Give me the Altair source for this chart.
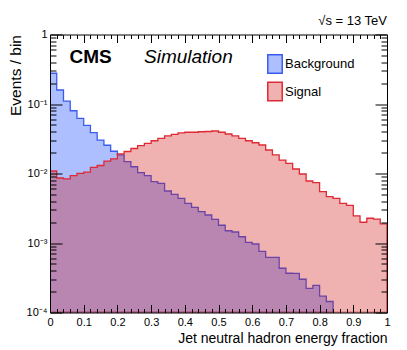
import altair as alt
import pandas as pd

# ---------------- data ----------------
BIN_STARTS = [round(0.02 * i, 2) for i in range(50)]
Y_MIN, Y_MAX = 1e-4, 1.0

# Background: bins 0..41 filled, bins 42..49 empty (below axis floor)
BACKGROUND = [0.277, 0.159, 0.110, 0.080, 0.0622, 0.0494, 0.0387, 0.0303, 0.0255, 0.0209,
              0.0185, 0.0148, 0.0125, 0.01027, 0.0093, 0.00762, 0.00723, 0.0056, 0.00502, 0.0044,
              0.00372, 0.00326, 0.00282, 0.00253, 0.00219, 0.0018, 0.0015, 0.00144, 0.00123, 0.00102,
              0.000968, 0.00076, 0.000623, 0.000623, 0.000433, 0.000367, 0.000365, 0.000301, 0.000223, 0.000245,
              0.000172, 0.000144]
SIGNAL = [0.01086, 0.00861, 0.00839, 0.0093, 0.01007, 0.01044, 0.01228, 0.01303, 0.01503, 0.01628,
          0.0191, 0.02074, 0.0229, 0.0251, 0.0272, 0.0296, 0.0321, 0.0347, 0.0366, 0.0385,
          0.0392, 0.0392, 0.0399, 0.0402, 0.0409, 0.0392, 0.0370, 0.0347, 0.0321, 0.0296,
          0.0277, 0.0257, 0.0218, 0.0185, 0.0156, 0.0140, 0.01161, 0.00984, 0.0078, 0.00738,
          0.00547, 0.00464, 0.0044, 0.00372, 0.00348, 0.00246, 0.00199, 0.00227, 0.00221, 0.00188]

SERIES = ["Background", "Signal"]
FILLS = ["rgba(8,60,255,0.33)", "rgba(210,18,18,0.33)"]
LINES = ["#3a5cf0", "#dd2a35"]

X_MAJOR = [round(0.1 * i, 1) for i in range(11)]
X_MINOR = [v for v in BIN_STARTS if round(v * 10, 6) != round(v * 10)]
Y_MAJOR = [1e-4, 1e-3, 1e-2, 1e-1, 1.0]
Y_MINOR = [round(k * 10.0 ** d, 8) for d in range(-4, 0) for k in range(2, 10)]

rows = []
for i, v in enumerate(BACKGROUND):
    rows.append({"series": "Background", "x": BIN_STARTS[i], "y": v})
rows.append({"series": "Background", "x": BIN_STARTS[len(BACKGROUND)], "y": Y_MIN})
for i, v in enumerate(SIGNAL):
    rows.append({"series": "Signal", "x": BIN_STARTS[i], "y": v})
rows.append({"series": "Signal", "x": 1.0, "y": SIGNAL[-1]})
df = pd.DataFrame(rows)

W, H = 337, 278
FONT = "Liberation Sans"

xscale = alt.Scale(domain=[0, 1], nice=False, zero=False)
yscale = alt.Scale(type="log", domain=[Y_MIN, Y_MAX], nice=False)

Y_LABEL_EXPR = ("datum.value >= 1 ? '1' : '10' + ['', '\u207b\u00b9', '\u207b\u00b2', '\u207b\u00b3', '\u207b\u2074']"
                "[round(-log(datum.value)/LN10)]")


def tick_axis(orient, offset, values, size, domain):
    return alt.Axis(orient=orient, offset=offset, values=values, labels=False, title=None,
                    ticks=True, tickSize=size, tickColor="black", tickWidth=1,
                    domain=domain, domainColor="black", domainWidth=1, grid=False, zindex=2)


def legend():
    return alt.Legend(orient="none", legendX=215, legendY=19.5, title=None,
                      symbolType="M-0.78,-1H0.78V1H-0.78Z", symbolSize=342,
                      symbolStrokeWidth=1.5, labelFont=FONT, labelFontSize=13,
                      labelColor="black", labelOffset=0, rowPadding=1.5, padding=0)


main = alt.Chart(df).mark_area(interpolate="step-after", strokeWidth=1.3, clip=True).encode(
    x=alt.X("x:Q", scale=xscale,
            axis=alt.Axis(values=X_MAJOR, format="~g", ticks=False, domain=False, grid=False,
                          labelFont=FONT, labelFontSize=11, labelColor="black", labelPadding=4,
                          labelFlush=False,
                          title="Jet neutral hadron energy fraction", titleFont=FONT,
                          titleFontSize=14, titleFontWeight="normal", titleColor="black",
                          titleAnchor="end", titlePadding=4)),
    y=alt.Y("y:Q", scale=yscale, stack=None,
            axis=alt.Axis(values=Y_MAJOR, labelExpr=Y_LABEL_EXPR, ticks=False, domain=False, grid=False,
                          labelFont=FONT, labelFontSize=11, labelColor="black", labelPadding=3,
                          labelFlush=False,
                          title="Events / bin", titleFont=FONT, titleFontSize=15.5,
                          titleFontWeight="normal", titleColor="black", titleAnchor="end",
                          titlePadding=2.5)),
    y2=alt.Y2(datum=Y_MIN),
    fill=alt.Fill("series:N", scale=alt.Scale(domain=SERIES, range=FILLS), legend=legend()),
    stroke=alt.Stroke("series:N", scale=alt.Scale(domain=SERIES, range=LINES), legend=legend()),
)

ghost = alt.Chart(df).mark_point(opacity=0)

bottom_major = ghost.encode(
    x=alt.X("x:Q", scale=xscale, axis=tick_axis("top", -H, X_MAJOR, 8, True)),
    y=alt.Y("y:Q", scale=yscale, axis=tick_axis("right", -W, Y_MAJOR, 12, True)))
bottom_minor = ghost.encode(
    x=alt.X("x:Q", scale=xscale, axis=tick_axis("top", -H, X_MINOR, 4, False)),
    y=alt.Y("y:Q", scale=yscale, axis=tick_axis("right", -W, Y_MINOR, 6, False)))
top_major = ghost.encode(
    x=alt.X("x:Q", scale=xscale, axis=tick_axis("bottom", -H, X_MAJOR, 8, True)),
    y=alt.Y("y:Q", scale=yscale, axis=tick_axis("left", -W, Y_MAJOR, 12, True)))
top_minor = ghost.encode(
    x=alt.X("x:Q", scale=xscale, axis=tick_axis("bottom", -H, X_MINOR, 4, False)),
    y=alt.Y("y:Q", scale=yscale, axis=tick_axis("left", -W, Y_MINOR, 6, False)))

cms = alt.Chart(pd.DataFrame({"t": ["CMS"]})).mark_text(
    font=FONT, fontSize=19, fontWeight="bold", align="left", baseline="alphabetic", color="black"
).encode(text="t:N", x=alt.value(19.5), y=alt.value(28))
sim = alt.Chart(pd.DataFrame({"t": ["Simulation"]})).mark_text(
    font=FONT, fontSize=19, fontStyle="italic", align="left", baseline="alphabetic", color="black"
).encode(text="t:N", x=alt.value(94), y=alt.value(28))

chart = alt.layer(main, bottom_major, bottom_minor, top_major, top_minor, cms, sim).resolve_axis(
    x="independent", y="independent"
).properties(
    width=W, height=H,
    title=alt.Title("\u221as = 13 TeV", anchor="end", frame="group", font=FONT, fontSize=13,
                    fontWeight="normal", color="black", offset=1),
    padding={"left": 0, "top": 6.5, "right": 5, "bottom": 0},
).configure_view(stroke=None)

chart.save("out.html", embed_options={"renderer": "svg", "actions": False})
